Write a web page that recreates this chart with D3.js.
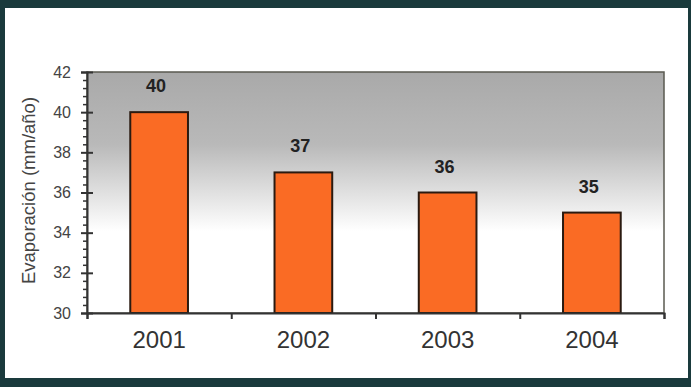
<!DOCTYPE html>
<html>
<head>
<meta charset="utf-8">
<script src="https://cdn.jsdelivr.net/npm/d3@7.9.0/dist/d3.min.js"></script>
<style>
  html, body { margin: 0; padding: 0; background: #1a3a3c; }
  svg { display: block; }
  text { font-family: "Liberation Sans", Arial, sans-serif; }
</style>
</head>
<body>
<svg id="chart" width="691" height="387"></svg>
<script>
// data
const years = ['2001', '2002', '2003', '2004'];
const evaporation = [40, 37, 36, 35];
const yTicks = [30, 32, 34, 36, 38, 40, 42];

const W = 691, H = 387;
const margin = { top: 72, right: 27, bottom: 74, left: 87 };
const innerW = W - margin.left - margin.right;
const innerH = H - margin.top - margin.bottom;

const svg = d3.select('#chart');

// white panel inside the dark frame
svg.append('rect')
  .attr('x', 5).attr('y', 8)
  .attr('width', 683).attr('height', 370)
  .attr('fill', '#fff');

const defs = svg.append('defs');
const grad = defs.append('linearGradient')
  .attr('id', 'bg').attr('x1', 0).attr('y1', 0).attr('x2', 0).attr('y2', 1);
grad.append('stop').attr('offset', '0%').attr('stop-color', '#a9a9a9');
grad.append('stop').attr('offset', '30%').attr('stop-color', '#b9b9b9');
grad.append('stop').attr('offset', '66%').attr('stop-color', '#ffffff');
grad.append('stop').attr('offset', '100%').attr('stop-color', '#ffffff');

const g = svg.append('g').attr('transform', `translate(${margin.left},${margin.top})`);

const x = d3.scaleBand().domain(years).range([0, innerW]).paddingInner(0.6).paddingOuter(0.3);
const y = d3.scaleLinear().domain([30, 42]).range([innerH, 0]);

// plot area
g.append('rect')
  .attr('width', innerW).attr('height', innerH)
  .attr('fill', 'url(#bg)')
  .attr('stroke', '#5a5a50').attr('stroke-width', 1.5);

// bars
g.selectAll('rect.bar')
  .data(evaporation)
  .join('rect')
  .attr('class', 'bar')
  .attr('x', (d, i) => x(years[i]))
  .attr('y', d => y(d))
  .attr('width', x.bandwidth())
  .attr('height', d => innerH - y(d))
  .attr('fill', '#fa6b24')
  .attr('stroke', '#2a1a10')
  .attr('stroke-width', 2);

// value labels
g.selectAll('text.val')
  .data(evaporation)
  .join('text')
  .attr('class', 'val')
  .attr('x', (d, i) => x(years[i]) + x.bandwidth() / 2 - 3)
  .attr('y', d => y(d) - 20)
  .attr('text-anchor', 'middle')
  .attr('font-size', 18)
  .attr('font-weight', 'bold')
  .attr('fill', '#222')
  .text(d => d);

// y axis: minor ticks
const minor = d3.range(30, 42.001, 0.4).filter(v => Math.abs(v / 2 - Math.round(v / 2)) > 0.01);
g.append('g').attr('class', 'ymajor')
  .call(d3.axisLeft(y).tickValues(yTicks).tickSize(6).tickPadding(10).tickFormat(d3.format('d')))
  .call(a => a.select('.domain').attr('stroke', '#333').attr('stroke-width', 2))
  .call(a => a.selectAll('.tick line').attr('stroke', '#333').attr('stroke-width', 2).attr('x2', 6).attr('x1', -6))
  .call(a => a.selectAll('.tick text').attr('font-size', 16).attr('fill', '#444'));

g.append('g').attr('class', 'yminor')
  .call(d3.axisLeft(y).tickValues(minor).tickSize(4).tickFormat(''))
  .call(a => a.select('.domain').remove())
  .call(a => a.selectAll('.tick line').attr('stroke', '#333').attr('stroke-width', 1.5));

// x axis with ticks at category boundaries
const xEdges = d3.scaleLinear().domain([0, years.length]).range([0, innerW]);
g.append('g')
  .attr('transform', `translate(0,${innerH})`)
  .call(d3.axisBottom(xEdges).tickValues(d3.range(0, years.length + 1)).tickSize(6).tickFormat(''))
  .call(a => a.select('.domain').attr('stroke', '#333').attr('stroke-width', 2))
  .call(a => a.selectAll('.tick line').attr('stroke', '#333').attr('stroke-width', 2));

g.append('g')
  .attr('transform', `translate(0,${innerH})`)
  .call(d3.axisBottom(x).tickSize(0).tickPadding(18))
  .call(a => a.select('.domain').remove())
  .call(a => a.selectAll('.tick text').attr('font-size', 24).attr('fill', '#333'));

// y label
svg.append('text')
  .attr('transform', `translate(35,${margin.top + innerH / 2 - 2}) rotate(-90)`)
  .attr('text-anchor', 'middle')
  .attr('font-size', 18.5)
  .attr('fill', '#444')
  .text('Evaporación (mm/año)');
</script>
</body>
</html>
